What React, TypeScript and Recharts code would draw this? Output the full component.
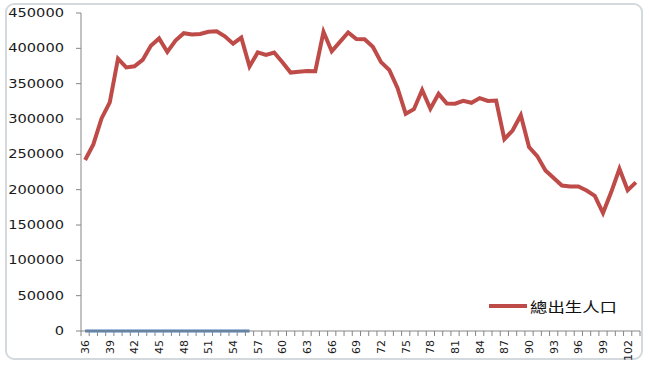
import React from 'react';
import { LineChart, Line, XAxis, YAxis } from 'recharts';

const years = [
  36, 37, 38, 39, 40, 41, 42, 43, 44, 45, 46, 47, 48, 49, 50, 51, 52, 53, 54, 55,
  56, 57, 58, 59, 60, 61, 62, 63, 64, 65, 66, 67, 68, 69, 70, 71, 72, 73, 74, 75,
  76, 77, 78, 79, 80, 81, 82, 83, 84, 85, 86, 87, 88, 89, 90, 91, 92, 93, 94, 95,
  96, 97, 98, 99, 100, 101, 102, 103,
];

const births = [
  242000, 264000, 300843, 323643, 385383, 372905, 374536, 383574, 403683, 414036,
  394870, 410885, 421458, 419442, 420254, 423469, 424250, 416926, 406604, 415108,
  374282, 394260, 390728, 394015, 380424, 365749, 366942, 367823, 367647, 423356,
  395796, 409203, 422518, 413177, 412779, 402258, 380480, 369349, 344016, 307363,
  313914, 341054, 314553, 335618, 321932, 321632, 325613, 322938, 329581, 325545,
  326002, 271450, 283661, 305312, 260354, 247530, 227070, 216419, 205854, 204459,
  204414, 198733, 191310, 166886, 196627, 229481, 199113, 210383,
];

// second (unlabelled) series, years 36-56
const baseline = [0, 0, 0, 0, 0, 0, 0, 0, 0, 0, 0, 0, 0, 0, 0, 0, 0, 0, 0, 0, 0];

const yTicks = [0, 50000, 100000, 150000, 200000, 250000, 300000, 350000, 400000, 450000];
const xLabelYears = [36, 39, 42, 45, 48, 51, 54, 57, 60, 63, 66, 69, 72, 75, 78, 81, 84, 87, 90, 93, 96, 99, 102];

const seriesName = '總出生人口';

const data = years.map((y, i) => ({
  year: String(y),
  births: births[i],
  base: i < baseline.length ? baseline[i] : null,
}));

const W = 649;
const H = 366;
const PLOT_LEFT = 81;
const PLOT_RIGHT = 640;
const PLOT_TOP = 13;
const PLOT_BOTTOM = 331;
const BAND = (PLOT_RIGHT - PLOT_LEFT) / years.length;

const XTick = (props: any) => {
  const { x, payload, index } = props;
  const v = Number(payload.value);
  const showLabel = xLabelYears.includes(v);
  const isLast = index === years.length - 1;
  return (
    <g>
      <line x1={x - BAND / 2} x2={x - BAND / 2} y1={PLOT_BOTTOM} y2={PLOT_BOTTOM + 5} stroke="#868686" strokeWidth={1} />
      {isLast && (
        <line x1={x + BAND / 2} x2={x + BAND / 2} y1={PLOT_BOTTOM} y2={PLOT_BOTTOM + 5} stroke="#868686" strokeWidth={1} />
      )}
      {showLabel && (
        <text
          x={x}
          y={PLOT_BOTTOM + 9}
          transform={`rotate(-90, ${x}, ${PLOT_BOTTOM + 9})`}
          textAnchor="end"
          dy="0.36em"
          fontFamily="DejaVu Sans"
          fontSize={11}
          fill="#1a1a1a"
        >
          {payload.value}
        </text>
      )}
    </g>
  );
};

const YTick = (props: any) => {
  const { y, payload } = props;
  const s = String(payload.value);
  return (
    <text
      x={64}
      y={y}
      dy="0.36em"
      textAnchor="end"
      fontFamily="DejaVu Sans"
      fontSize={11.5}
      fill="#1a1a1a"
      textLength={s.length * 9.3}
      lengthAdjust="spacingAndGlyphs"
    >
      {s}
    </text>
  );
};

export default function App() {
  return (
    <div style={{ position: 'absolute', left: 0, top: 0, width: W, height: H, background: '#fff' }}>
      <div
        style={{
          position: 'absolute',
          left: 5,
          top: 3,
          width: 638,
          height: 357,
          border: '2px solid #d3d9dc',
          borderRadius: 9,
          boxSizing: 'border-box',
        }}
      />
      <LineChart
        width={W}
        height={H}
        data={data}
        margin={{ top: PLOT_TOP, right: W - PLOT_RIGHT, bottom: 5, left: PLOT_LEFT - 60 }}
      >
        <XAxis
          dataKey="year"
          interval={0}
          tickLine={false}
          axisLine={{ stroke: '#868686' }}
          tick={<XTick />}
          height={30}
          padding={{ left: BAND / 2, right: BAND / 2 }}
        />
        <YAxis
          width={60}
          domain={[0, 450000]}
          ticks={yTicks}
          interval={0}
          tickSize={5}
          tickMargin={0}
          tickLine={{ stroke: '#868686' }}
          axisLine={{ stroke: '#868686' }}
          tick={<YTick />}
        />
        <Line
          type="linear"
          dataKey="births"
          name={seriesName}
          stroke="#BE4B48"
          strokeWidth={4}
          dot={false}
          isAnimationActive={false}
        />
        <Line
          type="linear"
          dataKey="base"
          stroke="#4A7EBB"
          strokeWidth={3}
          dot={false}
          connectNulls={false}
          isAnimationActive={false}
        />
      </LineChart>
      <svg style={{ position: 'absolute', left: 485, top: 294 }} width={140} height={24}>
        <line x1={4} x2={42} y1={12} y2={12} stroke="#BE4B48" strokeWidth={4} />
        <text
          x={45}
          y={17.5}
          fontFamily="Noto Sans CJK TC"
          fontSize={14}
          fill="#111"
          textLength={87}
          lengthAdjust="spacingAndGlyphs"
        >
          {seriesName}
        </text>
      </svg>
    </div>
  );
}
